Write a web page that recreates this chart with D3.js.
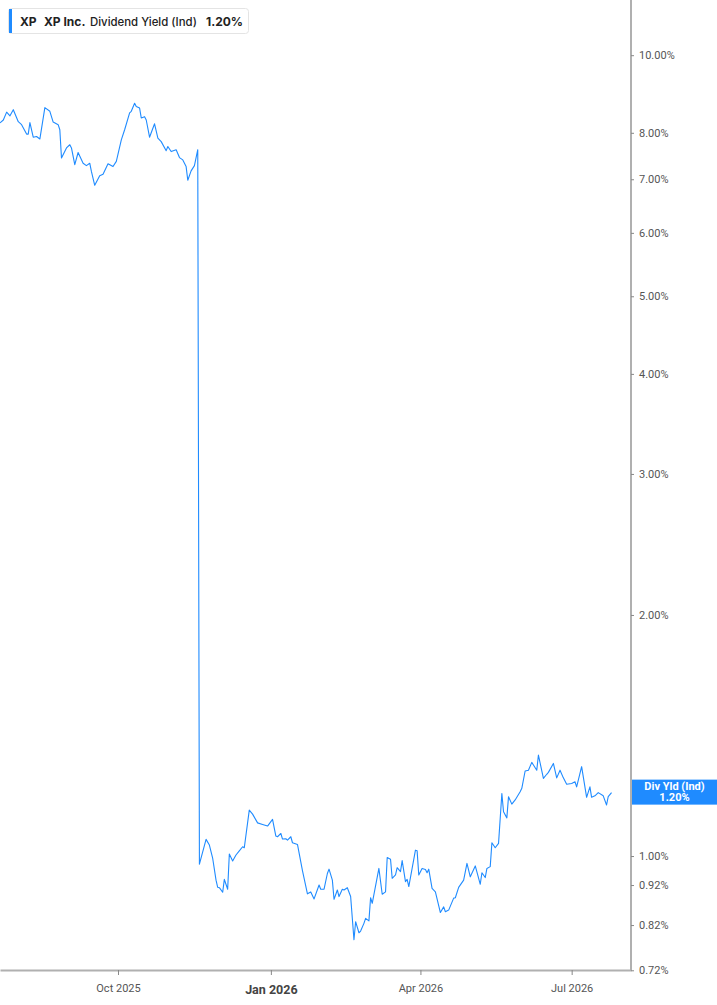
<!DOCTYPE html>
<html>
<head>
<meta charset="utf-8">
<script src="https://cdn.jsdelivr.net/npm/d3@7"></script>
<style>
  html, body { margin: 0; padding: 0; background: #fff; }
  svg { display: block; }
  .axis text { font-family: Roboto, "Liberation Sans", sans-serif; font-size: 11px; fill: #555; }
  .axis .domain { stroke: #b0b0b0; stroke-width: 2; }
  .axis .tick line { stroke: #888; }
</style>
</head>
<body>
<svg width="717" height="1005"></svg>
<script>
// dividend yield (%)
var dates = [
  "2025-07-22","2025-07-24","2025-07-26","2025-07-28","2025-07-30","2025-08-02","2025-08-04","2025-08-07",
  "2025-08-08","2025-08-09","2025-08-11","2025-08-13","2025-08-15","2025-08-18","2025-08-21","2025-08-23",
  "2025-08-26","2025-08-27","2025-08-28","2025-08-31","2025-09-02","2025-09-03","2025-09-05","2025-09-07",
  "2025-09-10","2025-09-12","2025-09-14","2025-09-15","2025-09-17","2025-09-20","2025-09-22","2025-09-25",
  "2025-09-28","2025-09-30","2025-10-03","2025-10-05","2025-10-08","2025-10-09","2025-10-11","2025-10-12",
  "2025-10-14","2025-10-15","2025-10-17","2025-10-18","2025-10-20","2025-10-23","2025-10-25","2025-10-27",
  "2025-10-30","2025-10-31","2025-11-02","2025-11-05","2025-11-07","2025-11-09","2025-11-11","2025-11-12",
  "2025-11-14","2025-11-16","2025-11-18","2025-11-19","2025-11-23","2025-11-25","2025-11-27","2025-11-29",
  "2025-11-30","2025-12-01","2025-12-03","2025-12-04","2025-12-06","2025-12-07","2025-12-09","2025-12-11",
  "2025-12-13","2025-12-15","2025-12-16","2025-12-19","2025-12-21","2025-12-24","2025-12-27","2025-12-30",
  "2026-01-02","2026-01-04","2026-01-05","2026-01-07","2026-01-08","2026-01-10","2026-01-11","2026-01-13",
  "2026-01-14","2026-01-17","2026-01-20","2026-01-23","2026-01-25","2026-01-27","2026-01-30","2026-01-31",
  "2026-02-02","2026-02-04","2026-02-05","2026-02-07","2026-02-08","2026-02-10","2026-02-11","2026-02-13",
  "2026-02-14","2026-02-16","2026-02-18","2026-02-20","2026-02-21","2026-02-23","2026-02-24","2026-02-26",
  "2026-02-27","2026-03-01","2026-03-02","2026-03-03","2026-03-07","2026-03-09","2026-03-11","2026-03-12",
  "2026-03-14","2026-03-15","2026-03-17","2026-03-18","2026-03-20","2026-03-21","2026-03-23","2026-03-24",
  "2026-03-25","2026-03-29","2026-03-30","2026-03-31","2026-04-02","2026-04-04","2026-04-05","2026-04-06",
  "2026-04-08","2026-04-10","2026-04-13","2026-04-15","2026-04-16","2026-04-18","2026-04-21","2026-04-22",
  "2026-04-24","2026-04-27","2026-04-29","2026-05-01","2026-05-04","2026-05-07","2026-05-08","2026-05-10",
  "2026-05-11","2026-05-13","2026-05-14","2026-05-16","2026-05-18","2026-05-20","2026-05-21","2026-05-23",
  "2026-05-24","2026-05-26","2026-05-28","2026-05-31","2026-06-01","2026-06-03","2026-06-05","2026-06-07",
  "2026-06-08","2026-06-10","2026-06-11","2026-06-14","2026-06-16","2026-06-17","2026-06-20","2026-06-22",
  "2026-06-24","2026-06-26","2026-06-28","2026-07-01","2026-07-03","2026-07-04","2026-07-07","2026-07-10",
  "2026-07-12","2026-07-13","2026-07-15","2026-07-17","2026-07-20","2026-07-22","2026-07-23","2026-07-25"
];
var yields = [
  8.23,8.30,8.49,8.40,8.55,8.26,8.19,7.97,
  7.97,8.24,7.90,7.915,7.86,8.60,8.51,8.25,
  8.19,8.07,7.44,7.66,7.73,7.66,7.30,7.56,
  7.33,7.28,7.33,7.16,6.88,7.07,7.10,7.32,
  7.26,7.37,7.84,8.07,8.47,8.51,8.71,8.63,
  8.59,8.35,8.38,8.30,7.90,8.21,7.88,7.80,
  7.60,7.69,7.58,7.62,7.45,7.40,7.26,6.98,
  7.17,7.28,7.62,0.977,1.049,1.032,0.993,0.933,
  0.914,0.913,0.901,0.935,0.909,1.006,0.986,1.003,
  1.015,1.027,1.024,1.141,1.128,1.100,1.095,1.090,
  1.111,1.059,1.057,1.067,1.050,1.051,1.047,1.057,
  1.039,1.034,0.959,0.897,0.902,0.884,0.920,0.909,
  0.909,0.951,0.963,0.933,0.883,0.907,0.890,0.909,
  0.907,0.913,0.890,0.786,0.828,0.802,0.806,0.824,
  0.836,0.830,0.887,0.873,0.965,0.896,0.902,0.996,
  0.991,0.938,0.947,0.967,0.956,0.987,0.929,0.935,
  0.916,1.017,1.015,0.947,0.965,0.962,0.953,0.963,
  0.911,0.902,0.850,0.864,0.852,0.856,0.886,0.887,
  0.914,0.933,0.979,0.942,0.972,0.922,0.953,0.940,
  0.965,0.970,1.039,1.024,1.037,1.197,1.136,1.116,
  1.186,1.161,1.175,1.203,1.215,1.277,1.280,1.309,
  1.299,1.280,1.337,1.250,1.265,1.272,1.305,1.252,
  1.280,1.252,1.229,1.232,1.238,1.220,1.293,1.184,
  1.220,1.184,1.189,1.200,1.189,1.158,1.186,1.200
];
var yTicks = [10, 8, 7, 6, 5, 4, 3, 2, 1, 0.92, 0.82, 0.72];
var xTicks = ["2025-10-01", "2026-01-01", "2026-04-01", "2026-07-01"];
var xLabels = ["Oct 2025", "Jan 2026", "Apr 2026", "Jul 2026"];
var lastLabel = ["Div Yld (Ind)", "1.20%"];
var legendParts = ["XP", "XP Inc.", "Dividend Yield (Ind)", "1.20%"];

var parse = d3.timeParse("%Y-%m-%d");
var data = dates.map(function(d, i) { return {date: parse(d), value: yields[i]}; });

var svg = d3.select("svg"),
    plotW = 631,
    plotH = 970;

var x = d3.scaleTime()
    .domain([new Date(2025, 6, 22), new Date(2026, 7, 5, 17)])
    .range([0, plotW]);

var y = d3.scaleLog()
    .domain([0.7206, 11.72])
    .range([plotH, 0]);

var line = d3.line()
    .x(function(d) { return x(d.date); })
    .y(function(d) { return y(d.value); });

svg.append("path")
    .datum(data)
    .attr("fill", "none")
    .attr("stroke", "#1f8bff")
    .attr("stroke-width", 1.1)
    .attr("stroke-linejoin", "round")
    .attr("d", line);

// x axis
var xAxis = svg.append("g")
    .attr("class", "axis axis--x")
    .attr("transform", "translate(0," + plotH + ")")
    .call(d3.axisBottom(x)
      .tickValues(xTicks.map(parse))
      .tickSize(5)
      .tickSizeOuter(0)
      .tickFormat(function(d, i) { return xLabels[i]; }));
xAxis.selectAll("text").attr("dy", "1.3em");
xAxis.selectAll(".tick")
    .filter(function(d, i) { return i === 1; })
    .select("text")
    .style("font-size", "12.5px")
    .style("font-weight", "bold")
    .style("fill", "#444");

// y axis on the right
var yAxis = svg.append("g")
    .attr("class", "axis axis--y")
    .attr("transform", "translate(" + plotW + ",0)")
    .call(d3.axisRight(y)
      .tickValues(yTicks)
      .tickSize(3)
      .tickSizeOuter(0)
      .tickFormat(function(d) { return d.toFixed(2) + "%"; }));
yAxis.select(".domain").attr("d", "M0,0V" + (plotH + 1));
yAxis.selectAll("text").attr("x", 8);

// last value tag
var tagY = y(yields[yields.length - 1]);
var tag = svg.append("g").attr("transform", "translate(" + (plotW + 1) + "," + (tagY - 13) + ")");
tag.append("rect")
    .attr("width", 717 - plotW - 1)
    .attr("height", 25)
    .attr("fill", "#1f8bff");
tag.selectAll("text")
    .data(lastLabel)
  .enter().append("text")
    .attr("x", (717 - plotW - 1) / 2)
    .attr("y", function(d, i) { return 10 + i * 11.5; })
    .attr("text-anchor", "middle")
    .style("font", "bold 11px Roboto, sans-serif")
    .attr("fill", "#fff")
    .text(function(d) { return d; });

// legend box
var legend = svg.append("g").attr("transform", "translate(8,8)");
legend.append("rect")
    .attr("x", 0.5).attr("y", 0.5)
    .attr("width", 240).attr("height", 25)
    .attr("rx", 3)
    .attr("fill", "#fff")
    .attr("stroke", "#e4e4e4");
legend.append("rect")
    .attr("x", 1).attr("y", 1)
    .attr("width", 3).attr("height", 24)
    .attr("fill", "#1f8bff");
var lx = [12, 36, 82, 198];
var lw = ["bold", "bold", "500", "bold"];
var ls = ["12px", "12px", "11.4px", "12px"];
legend.selectAll("text.lg")
    .data(legendParts)
  .enter().append("text")
    .attr("class", "lg")
    .attr("x", function(d, i) { return lx[i]; })
    .attr("y", 17.5)
    .style("font-family", "Inter, Roboto, sans-serif")
    .style("font-size", function(d, i) { return ls[i]; })
    .style("font-weight", function(d, i) { return lw[i]; })
    .attr("fill", "#222")
    .text(function(d) { return d; });
</script>
</body>
</html>
